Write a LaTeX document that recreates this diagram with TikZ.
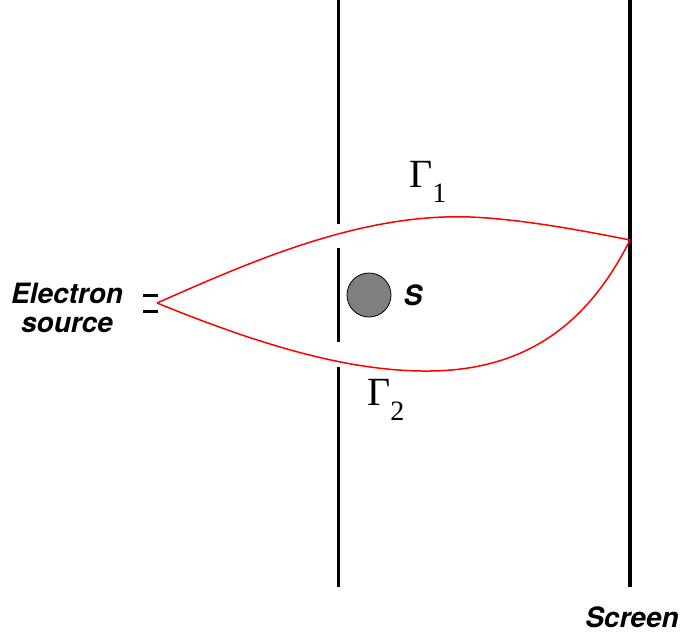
\documentclass[tikz,border=0pt]{standalone}
\usepackage{fontspec}
\setmainfont{Liberation Serif}
\newfontfamily\labelfont{TeX Gyre Heros}
\usepackage{tikz}
\usetikzlibrary{calc,positioning}
\definecolor{pathred}{HTML}{FF0000}
\definecolor{scattergray}{HTML}{808080}
\tikzset{
  wall/.style={line width=3pt,black},
  screenline/.style={line width=3.5pt,black},
  electronpath/.style={line width=1.5pt,pathred},
  sourcedash/.style={line width=3pt,black},
  tag/.style={font=\labelfont\bfseries\itshape\fontsize{28}{29}\selectfont,inner sep=0pt,align=center},
  gammalabel/.style={font=\fontsize{40}{40}\selectfont,inner sep=0pt,anchor=base west},
  scatterer/.style={circle,draw=black,line width=0.8pt,fill=scattergray,minimum size=44pt,inner sep=0pt}
}
\newcommand{\gammasub}[1]{Γ\raisebox{-15pt}{\fontsize{28}{28}\selectfont #1}}

\begin{document}
\begin{tikzpicture}[x=1pt,y=-1pt]
  \useasboundingbox (0,0) rectangle (682,637);
  % wall with two slits
  \draw[wall] (338,0) -- (338,224);
  \draw[wall] (338,248) -- (338,342);
  \draw[wall] (338,367) -- (338,587);
  % screen
  \draw[screenline] (630,0) -- (630,587);
  % source
  \coordinate (source) at (157,303);
  \coordinate (hit) at (630,240);
  \draw[sourcedash] (143,295) -- (158,295);
  \draw[sourcedash] (143,311) -- (158,311);
  \node[tag] (srclabel) at (67,308) {Electron\\source};
  % scatterer
  \node[scatterer] (scat) at (369,295) {};
  \node[tag,right=12pt of scat] (slabel) {S};
  % the two paths
  \draw[electronpath] (source) .. controls (250,262) and (360,213) .. (470,217)
    .. controls (520,219) and (580,230) .. (hit);
  \draw[electronpath] (source) .. controls (260,345) and (350,372) .. (430,371)
    .. controls (530,370) and (590,320) .. (hit);
  \node[gammalabel] (g1) at (409,187) {\gammasub{1}};
  \node[gammalabel] (g2) at (367,405) {\gammasub{2}};
  \node[tag] (scrlabel) at (632,617) {Screen};
\end{tikzpicture}
\end{document}
